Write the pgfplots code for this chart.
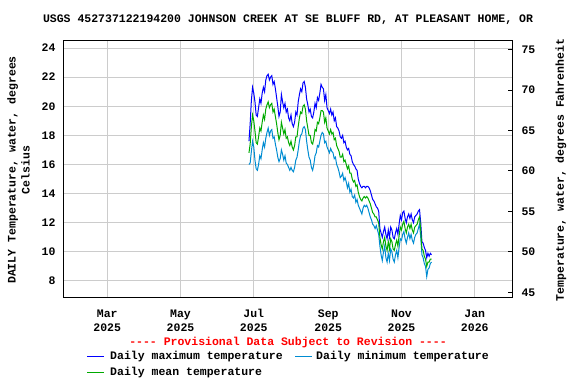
\documentclass[border=0pt]{standalone}
\usepackage{fontspec}
\setmainfont{Liberation Mono}[Ligatures=TeXOff]
\usepackage{pgfplots}
\usepackage{pgfplotstable}
\pgfplotsset{compat=1.18}

\definecolor{maxc}{RGB}{0,0,255}
\definecolor{minc}{RGB}{0,140,210}
\definecolor{meanc}{RGB}{0,170,0}
\definecolor{gridc}{RGB}{204,204,204}

% day of year 2025 (Jan 1 = 0), daily max / min / mean, deg C
\pgfplotstableread{
day tmax tmin tmean
177 17.6 16.0 16.8
178 18.8 16.1 17.4
179 20.4 16.9 18.6
180 21.3 17.6 19.4
181 20.9 17.2 19.0
182 20.3 16.3 18.3
183 19.4 15.7 17.5
184 19.3 15.6 17.4
185 19.9 16.0 17.9
186 20.5 16.6 18.5
187 20.2 16.4 18.3
188 20.9 17.0 18.9
189 21.3 17.5 19.4
190 21.0 17.2 19.1
191 21.8 17.8 19.8
192 22.1 18.2 20.1
193 22.2 18.5 20.3
194 21.8 18.0 19.9
195 22.0 18.3 20.1
196 22.1 18.4 20.2
197 21.5 17.8 19.6
198 21.7 17.9 19.8
199 21.2 17.4 19.3
200 20.6 17.0 18.8
201 20.0 16.5 18.2
202 19.3 16.2 17.7
203 19.6 16.4 18.0
204 20.8 17.0 18.9
205 20.3 16.7 18.5
206 19.9 16.3 18.1
207 20.2 16.6 18.4
208 19.6 16.1 17.8
209 19.8 16.0 17.9
210 19.2 15.8 17.5
211 19.0 15.6 17.3
212 19.4 15.8 17.6
213 18.8 15.6 17.2
214 18.6 15.5 17.0
215 18.9 15.8 17.3
216 19.6 16.3 17.9
217 19.4 16.5 17.9
218 20.3 17.0 18.6
219 20.8 17.6 19.2
220 21.2 18.0 19.6
221 21.0 18.1 19.5
222 21.6 18.5 20.0
223 21.7 18.6 20.1
224 21.3 18.4 19.8
225 20.5 17.6 19.0
226 20.1 17.0 18.5
227 19.6 16.5 18.0
228 19.8 16.3 18.0
229 19.3 15.8 17.5
230 19.2 15.6 17.4
231 19.6 16.0 17.8
232 20.2 16.6 18.4
233 19.9 16.8 18.3
234 20.6 17.3 18.9
235 20.4 17.2 18.8
236 20.9 17.6 19.2
237 21.5 18.0 19.7
238 21.3 18.2 19.7
239 21.2 18.1 19.6
240 20.4 17.5 18.9
241 20.8 17.6 19.2
242 19.9 17.2 18.5
243 19.7 17.0 18.3
244 19.5 16.8 18.1
245 19.8 17.1 18.4
246 19.4 16.9 18.1
247 19.6 16.8 18.2
248 19.0 16.4 17.7
249 19.2 16.5 17.8
250 18.6 16.0 17.3
251 18.5 15.8 17.1
252 18.3 15.5 16.9
253 17.9 15.1 16.5
254 17.8 15.2 16.5
255 18.0 15.4 16.7
256 17.5 14.9 16.2
257 17.6 15.1 16.3
258 17.2 14.8 16.0
259 17.0 14.4 15.7
260 17.1 14.7 15.9
261 16.7 14.1 15.4
262 16.6 14.3 15.4
263 16.2 13.8 15.0
264 16.0 13.7 14.8
265 15.9 13.9 14.9
266 15.7 13.4 14.5
267 15.6 13.6 14.6
268 15.0 13.2 14.1
269 14.7 13.0 13.8
270 14.5 12.8 13.6
271 14.4 12.6 13.5
272 14.5 13.0 13.7
273 14.5 13.2 13.8
274 14.4 13.1 13.7
275 14.5 13.2 13.8
276 14.5 13.0 13.7
277 14.4 12.7 13.5
278 14.2 12.4 13.3
279 13.9 12.2 13.0
280 13.6 11.9 12.7
281 13.5 11.8 12.6
282 13.3 11.6 12.4
283 13.1 11.8 12.4
284 13.0 11.5 12.2
285 12.8 11.2 12.0
286 11.6 10.4 11.0
287 11.3 9.8 10.5
288 11.0 9.4 10.2
289 11.4 10.0 10.7
290 11.7 10.4 11.0
291 11.2 9.6 10.4
292 10.9 9.3 10.1
293 11.5 9.9 10.7
294 11.0 9.4 10.2
295 11.7 10.2 10.9
296 11.5 10.0 10.7
297 11.0 9.5 10.2
298 10.9 9.3 10.1
299 11.3 9.8 10.5
300 11.6 10.1 10.8
301 11.2 9.6 10.4
302 11.9 10.3 11.1
303 12.5 10.9 11.7
304 12.2 10.8 11.5
305 12.7 11.2 11.9
306 12.8 11.4 12.1
307 12.3 10.9 11.6
308 12.0 10.6 11.3
309 12.4 11.0 11.7
310 12.6 11.3 11.9
311 12.3 10.9 11.6
312 12.6 11.2 11.9
313 12.2 10.8 11.5
314 12.0 10.6 11.3
315 12.4 11.0 11.7
316 12.5 11.2 11.8
317 12.6 11.3 11.9
318 12.8 11.6 12.2
319 12.9 11.9 12.4
320 12.0 11.0 11.5
321 10.7 9.8 10.2
322 10.6 9.6 10.1
323 10.3 9.2 9.7
324 10.1 9.0 9.5
325 9.6 8.3 9.0
326 9.9 8.8 9.3
327 9.7 8.9 9.3
328 9.9 9.2 9.5
329 9.8 9.3 9.5
}\temps

\begin{document}
\begin{tikzpicture}[
  lab/.style={font=\bfseries\fontsize{11.5}{14}\selectfont}]
\path[use as bounding box] (0pt,0pt) rectangle (576pt,384pt);

\begin{axis}[
  at={(64pt,87pt)}, anchor=south west,
  scale only axis, width=448pt, height=257pt,
  xmin=23, xmax=396, ymin=6.9, ymax=24.55,
  xtick={59,120,181,243,304,365},
  xticklabels={{\vphantom{l}Mar\\2025},{\vphantom{l}May\\2025},{\vphantom{l}Jul\\2025},
    {\vphantom{l}Sep\\2025},{\vphantom{l}Nov\\2025},{\vphantom{l}Jan\\2026}},
  ytick={8,10,...,24},
  major tick length=0pt,
  grid=major, grid style={gridc, line width=1pt},
  axis line style={line width=1pt},
  tick label style={lab},
  xticklabel style={align=center, yshift=-8.5pt},
  yticklabel style={xshift=-5pt},
  /pgf/number format/assume math mode=true,
]
\addplot[color=maxc, line width=1pt] table[x=day, y=tmax] {\temps};
\addplot[color=minc, line width=1pt] table[x=day, y=tmin] {\temps};
\addplot[color=meanc, line width=1pt] table[x=day, y=tmean] {\temps};
\end{axis}

\begin{axis}[
  at={(64pt,87pt)}, anchor=south west,
  scale only axis, width=448pt, height=257pt,
  xmin=23, xmax=396, ymin=44.42, ymax=76.19,
  axis x line=none, axis y line*=right,
  ytick={45,50,...,75},
  tick align=inside, major tick length=4pt,
  axis line style={line width=1pt},
  ytick style={line width=1pt, black},
  tick label style={lab},
  yticklabel style={xshift=6pt},
  /pgf/number format/assume math mode=true,
]
\end{axis}

\node[lab] at (288pt,364pt) {USGS 452737122194200 JOHNSON CREEK AT SE BLUFF RD, AT PLEASANT HOME, OR};
\node[lab, rotate=90, align=center] at (18.5pt,214pt) {DAILY Temperature, water, degrees\\Celsius};
\node[lab, rotate=90] at (561pt,214pt) {Temperature, water, degrees Fahrenheit};
\node[lab, text=red] at (288pt,41pt) {---- Provisional Data Subject to Revision ----};

% legend
\draw[maxc, line width=1pt] (87pt,28pt) -- (104pt,28pt);
\node[lab, anchor=west, inner sep=0pt] at (110pt,27pt) {Daily maximum temperature};
\draw[minc, line width=1pt] (295pt,28pt) -- (312pt,28pt);
\node[lab, anchor=west, inner sep=0pt] at (316pt,27pt) {Daily minimum temperature};
\draw[meanc, line width=1pt] (87pt,12pt) -- (104pt,12pt);
\node[lab, anchor=west, inner sep=0pt] at (110pt,11pt) {Daily mean temperature};
\end{tikzpicture}
\end{document}
